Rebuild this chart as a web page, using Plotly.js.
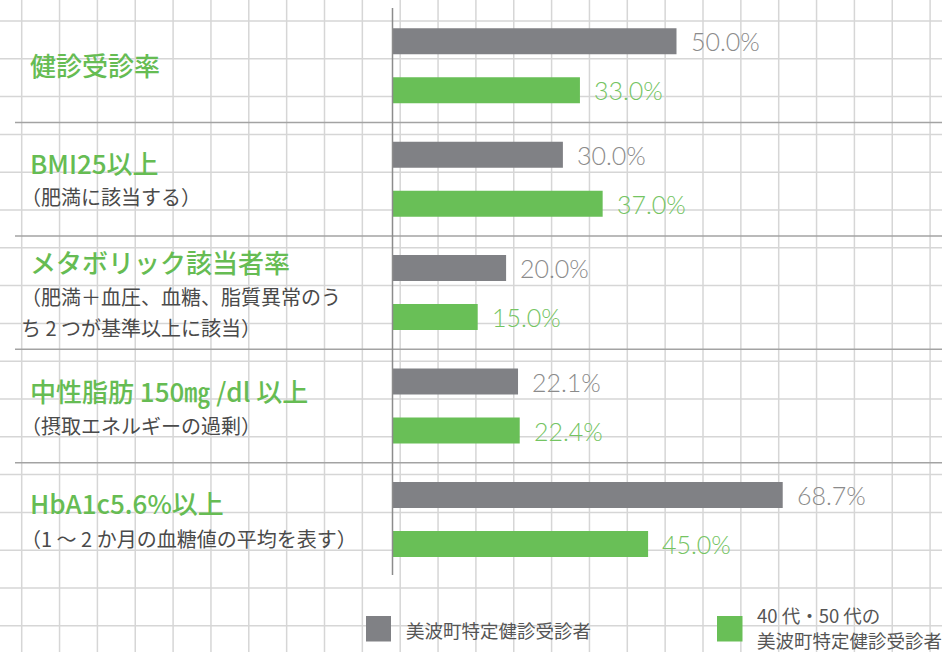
<!DOCTYPE html>
<html>
<head>
<meta charset="utf-8">
<script src="https://cdn.plot.ly/plotly-3.0.1.min.js"></script>
<style>
  html, body { margin: 0; padding: 0; background: #ffffff; }
  #chart { width: 942px; height: 652px; }
</style>
</head>
<body>
<div id="chart"></div>
<script>
// ---- data ----
const categories = ['健診受診率', 'BMI25以上', 'メタボリック該当者率', '中性脂肪 150㎎ /dl 以上', 'HbA1c5.6%以上'];
const subtitles = [
  [],
  ['（肥満に該当する）'],
  ['（肥満＋血圧、血糖、脂質異常のう', 'ち 2 つが基準以上に該当）'],
  ['（摂取エネルギーの過剰）'],
  ['（1 ～ 2 か月の血糖値の平均を表す）']
];
const townValues = [50.0, 30.0, 20.0, 22.1, 68.7];
const ageValues = [33.0, 37.0, 15.0, 22.4, 45.0];
const seriesNames = [['美波町特定健診受診者'], ['40 代・50 代の', '美波町特定健診受診者']];

// ---- style / layout constants ----
const W = 942, H = 652;
const GRAY = '#808185', GREEN = '#69bf57';
const GRAY_TXT = '#8b8b8b', GREEN_TXT = '#74c462';
const TITLE_GREEN = '#66bc53', SUB_TXT = '#4a4a4a';
const JP = '"Noto Sans CJK JP", "Noto Sans", sans-serif';
const NUM = 'Lato, "Noto Sans", sans-serif';
const PXPERPCT = 5.68, ZERO_PX = 392.5;
const CENTER0 = 65.8, GROUP_PX = 113.4;
const titleY = [65, 162.5, 261, 390, 502];
const subY = [[], [197], [297, 327], [425], [538]];
const legendY = [[630], [615, 640]];
const legendX = [404, 755];

const px = v => v / W;
const py = v => 1 - v / H;

const traces = [
  { type: 'bar', orientation: 'h', name: seriesNames[0].join(' '), y: categories, x: townValues,
    marker: { color: GRAY }, hoverinfo: 'skip' },
  { type: 'bar', orientation: 'h', name: seriesNames[1].join(''), y: categories, x: ageValues,
    marker: { color: GREEN }, hoverinfo: 'skip' }
];

const shapes = [];
// background grid
for (let gx = 21.7; gx < W; gx += 37.85) {
  shapes.push({ type: 'line', xref: 'paper', yref: 'paper', x0: px(gx), x1: px(gx), y0: 0, y1: 1,
    line: { color: '#d6d6d6', width: 1.5 }, layer: 'below' });
}
for (let gy = 21; gy < H; gy += 37.8) {
  shapes.push({ type: 'line', xref: 'paper', yref: 'paper', x0: 0, x1: 1, y0: py(gy), y1: py(gy),
    line: { color: '#d6d6d6', width: 1.5 }, layer: 'below' });
}
// group separators
for (let i = 0; i < categories.length - 1; i++) {
  shapes.push({ type: 'line', xref: 'paper', yref: 'y', x0: px(15), x1: 1, y0: i + 0.5, y1: i + 0.5,
    line: { color: '#a3a3a3', width: 1.5 }, layer: 'below' });
}
// vertical axis line
shapes.push({ type: 'line', xref: 'x', yref: 'paper', x0: 0, x1: 0, y0: py(8), y1: py(575),
  line: { color: '#8c8c8c', width: 1.5 }, layer: 'above' });
// legend swatches
shapes.push({ type: 'rect', xref: 'paper', yref: 'paper', x0: px(366), x1: px(391), y0: py(616), y1: py(641.5),
  fillcolor: GRAY, line: { width: 0 } });
shapes.push({ type: 'rect', xref: 'paper', yref: 'paper', x0: px(717), x1: px(742.5), y0: py(616), y1: py(641.5),
  fillcolor: GREEN, line: { width: 0 } });

const annotations = [];
categories.forEach((c, i) => {
  annotations.push({ xref: 'paper', yref: 'paper', x: px(28), y: py(titleY[i]), xanchor: 'left', yanchor: 'middle',
    text: c, showarrow: false, font: { family: JP, size: 26, color: TITLE_GREEN, weight: 500 } });
  subtitles[i].forEach((s, j) => {
    annotations.push({ xref: 'paper', yref: 'paper', x: px(19), y: py(subY[i][j]), xanchor: 'left', yanchor: 'middle',
      text: s, showarrow: false, font: { family: JP, size: 20, color: SUB_TXT } });
  });
  annotations.push({ xref: 'x', yref: 'y', x: townValues[i], y: i, yshift: 24.5, xshift: 12, xanchor: 'left', yanchor: 'middle',
    text: townValues[i].toFixed(1) + '%', showarrow: false, font: { family: NUM, size: 25, color: GRAY_TXT, weight: 300 } });
  annotations.push({ xref: 'x', yref: 'y', x: ageValues[i], y: i, yshift: -24.5, xshift: 12, xanchor: 'left', yanchor: 'middle',
    text: ageValues[i].toFixed(1) + '%', showarrow: false, font: { family: NUM, size: 25, color: GREEN_TXT, weight: 300 } });
});
// legend labels
seriesNames.forEach((lines, k) => {
  lines.forEach((t, j) => {
    annotations.push({ xref: 'paper', yref: 'paper', x: px(legendX[k]), y: py(legendY[k][j]), xanchor: 'left', yanchor: 'middle',
      text: t, showarrow: false, font: { family: JP, size: 18.5, color: '#555555' } });
  });
});

const layout = {
  width: W, height: H,
  margin: { l: 0, r: 0, t: 0, b: 0, pad: 0 },
  paper_bgcolor: '#ffffff', plot_bgcolor: 'rgba(0,0,0,0)',
  showlegend: false,
  barmode: 'group', bargap: 0.136, bargroupgap: 0.469,
  xaxis: { range: [-ZERO_PX / PXPERPCT, (W - ZERO_PX) / PXPERPCT], showgrid: false, zeroline: false,
           showticklabels: false, showline: false, fixedrange: true },
  yaxis: { type: 'category', categoryorder: 'array', categoryarray: categories,
           range: [(H - CENTER0) / GROUP_PX, -CENTER0 / GROUP_PX],
           showgrid: false, zeroline: false, showticklabels: false, showline: false, fixedrange: true },
  shapes: shapes,
  annotations: annotations
};

Plotly.newPlot('chart', traces, layout, { displayModeBar: false, staticPlot: true });
</script>
</body>
</html>
